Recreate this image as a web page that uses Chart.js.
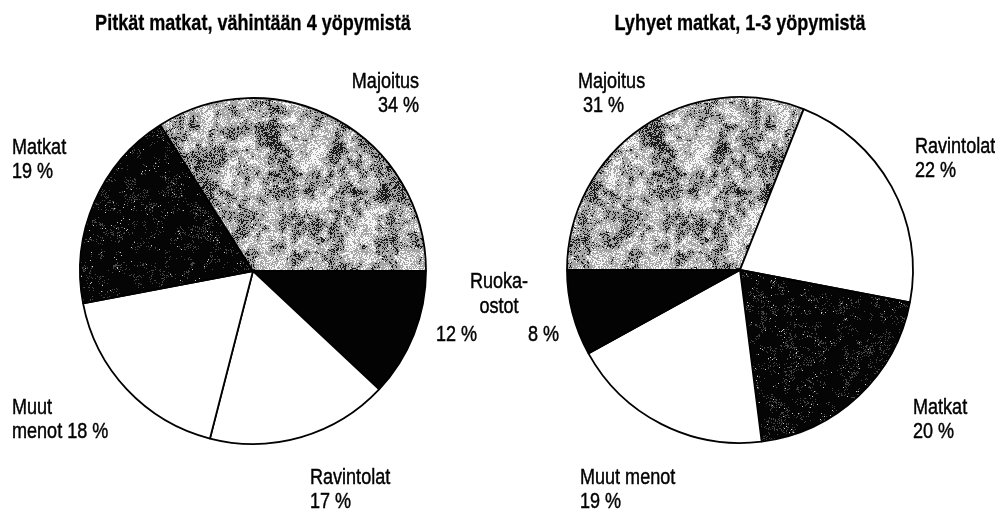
<!DOCTYPE html>
<html>
<head>
<meta charset="utf-8">
<script src="https://cdn.jsdelivr.net/npm/chart.js@4.4.0/dist/chart.umd.min.js"></script>
<style>
  html, body { margin: 0; padding: 0; background: #fff; }
  #wrap { position: relative; width: 995px; height: 513px; overflow: hidden; }
  #wrap canvas { position: absolute; left: 0; top: 0; }
</style>
</head>
<body>
<div id="wrap">
  <canvas id="longChart" width="995" height="513"></canvas>
  <canvas id="shortChart" width="995" height="513"></canvas>
</div>
<script>
// --- Data (slice order = clockwise drawing order) ---
const longTitle = 'Pitkät matkat, vähintään 4 yöpymistä';
const longLabels = ['Ruokaostot', 'Ravintolat', 'Muut menot', 'Matkat', 'Majoitus'];
const longValues = [12, 17, 18, 19, 34];

const shortTitle = 'Lyhyet matkat, 1-3 yöpymistä';
const shortLabels = ['Majoitus', 'Ravintolat', 'Matkat', 'Muut menot', 'Ruokaostot'];
const shortValues = [31, 22, 20, 19, 8];

// --- Fonts ---
const FONT = '"Liberation Sans Narrow", "Arial Narrow"';
let condense = 1;
(function detectNarrow() {
    const c = document.createElement('canvas').getContext('2d');
    c.font = '22px ' + FONT + ', monospace';
    const a = c.measureText('Majoitus matkat').width;
    c.font = '22px monospace';
    const b = c.measureText('Majoitus matkat').width;
    if (Math.abs(a - b) < 0.5) condense = 0.82; // narrow face missing -> squeeze regular
})();
function fontStr(size, bold) {
    const fam = condense === 1 ? FONT + ', "Liberation Sans", sans-serif' : '"Liberation Sans", Arial, sans-serif';
    return (bold ? 'bold ' : '') + size + 'px ' + fam;
}

function drawText(ctx, text, x, y, align, bold) {
    ctx.save();
    ctx.font = fontStr(22, bold);
    ctx.fillStyle = '#000';
    ctx.strokeStyle = '#000';
    ctx.lineWidth = bold ? 0.3 : 0.45; // scanned print looks a bit heavier
    ctx.textBaseline = 'alphabetic';
    ctx.textAlign = align;
    ctx.translate(x, y);
    ctx.scale(condense, 1);
    ctx.fillText(text, 0, 0);
    ctx.strokeText(text, 0, 0);
    ctx.restore();
}

// --- Textures (deterministic speckle) ---
function lcg(seed) {
    let s = seed >>> 0;
    return function() {
        s = (s * 1664525 + 1013904223) >>> 0;
        return s / 4294967296;
    };
}

// smooth value noise on a repeating grid
function valueNoise(rnd, size, cell) {
    const n = size / cell, grid = [];
    for (let i = 0; i < n * n; i++) grid.push(rnd());
    const at = (cx, cy) => grid[((cy + n) % n) * n + ((cx + n) % n)];
    return function(x, y) {
        const fx = x / cell, fy = y / cell;
        const x0 = Math.floor(fx), y0 = Math.floor(fy);
        const tx = fx - x0, ty = fy - y0;
        return (at(x0, y0) * (1 - tx) + at(x0 + 1, y0) * tx) * (1 - ty) +
               (at(x0, y0 + 1) * (1 - tx) + at(x0 + 1, y0 + 1) * tx) * ty;
    };
}

function makeSpeckle(kind) {
    const size = 192;
    const cv = document.createElement('canvas');
    cv.width = size; cv.height = size;
    const g = cv.getContext('2d');
    const img = g.createImageData(size, size);
    const rnd = lcg(kind === 'gray' ? 12345 : 987);
    const big = valueNoise(rnd, size, 16);
    const mid = valueNoise(rnd, size, 6);
    for (let y = 0; y < size; y++) {
        for (let x = 0; x < size; x++) {
            const f = rnd();
            let v;
            if (kind === 'gray') {
                const m = 0.3 * big(x, y) + 0.35 * mid(x, y) + 0.35 * f;
                v = m < 0.36 ? 25 : (m > 0.62 ? 245 : 165);
            } else {
                const m = 0.35 * mid(x, y) + 0.65 * f;
                v = m > 0.78 ? (f > 0.99 ? 200 : 70) : 5;
            }
            const k = (y * size + x) * 4;
            img.data[k] = img.data[k + 1] = img.data[k + 2] = v;
            img.data[k + 3] = 255;
        }
    }
    g.putImageData(img, 0, 0);
    return g.createPattern(cv, 'repeat');
}

const grayTex = makeSpeckle('gray');
const darkTex = makeSpeckle('dark');
function fillFor(name) {
    if (name === 'Majoitus') return grayTex;
    if (name === 'Matkat') return darkTex;
    if (name === 'Ruokaostot') return '#030303';
    return '#ffffff';
}

function pct(labels, values, name) {
    return values[labels.indexOf(name)] + ' %';
}

// --- Text layout [text, x, baseline y, align] ---
const longTexts = [
    ['Majoitus', 419, 88, 'right'],
    [pct(longLabels, longValues, 'Majoitus'), 419, 112, 'right'],
    ['Matkat', 12, 154, 'left'],
    [pct(longLabels, longValues, 'Matkat'), 12, 178, 'left'],
    [pct(longLabels, longValues, 'Ruokaostot'), 436, 341, 'left'],
    ['Muut', 12, 414, 'left'],
    ['menot ' + pct(longLabels, longValues, 'Muut menot'), 12, 438, 'left'],
    ['Ravintolat', 310, 484, 'left'],
    [pct(longLabels, longValues, 'Ravintolat'), 310, 508, 'left']
];
const shortTexts = [
    ['Majoitus', 578, 88, 'left'],
    [pct(shortLabels, shortValues, 'Majoitus'), 583, 112, 'left'],
    ['Ravintolat', 915, 153, 'left'],
    [pct(shortLabels, shortValues, 'Ravintolat'), 915, 177, 'left'],
    ['Ruoka-', 499, 288, 'center'],
    ['ostot', 499, 313, 'center'],
    [pct(shortLabels, shortValues, 'Ruokaostot'), 528, 341, 'left'],
    ['Matkat', 913, 414, 'left'],
    [pct(shortLabels, shortValues, 'Matkat'), 913, 438, 'left'],
    ['Muut menot', 580, 484, 'left'],
    [pct(shortLabels, shortValues, 'Muut menot'), 580, 508, 'left']
];

const textPlugin = {
    id: 'pieTexts',
    afterDraw(chart, args, opts) {
        const ctx = chart.ctx;
        const area = chart.chartArea;
        drawText(ctx, opts.title, (area.left + area.right) / 2, 30, 'center', true);
        opts.texts.forEach(t => drawText(ctx, t[0], t[1], t[2], t[3], false));
    }
};

function makePie(id, labels, values, title, texts, rotation, pad) {
    return new Chart(document.getElementById(id), {
        type: 'pie',
        data: {
            labels: labels,
            datasets: [{
                data: values,
                backgroundColor: labels.map(fillFor),
                borderColor: '#000',
                borderWidth: 1.8,
                hoverOffset: 0
            }]
        },
        options: {
            responsive: false,
            animation: false,
            events: [],
            rotation: rotation,
            radius: 173,
            layout: { padding: pad },
            plugins: {
                legend: { display: false },
                tooltip: { enabled: false },
                title: { display: false },
                pieTexts: { title: title, texts: texts }
            }
        },
        plugins: [textPlugin]
    });
}

// left pie: centre ~(253,271), starts at 3 o'clock; right pie: centre ~(740,270), starts at 9 o'clock
makePie('longChart', longLabels, longValues, longTitle, longTexts, 90,
    { left: 53, right: 995 - 453, top: 71, bottom: 513 - 471 });
makePie('shortChart', shortLabels, shortValues, shortTitle, shortTexts, -90,
    { left: 540, right: 995 - 940, top: 70, bottom: 513 - 470 });
</script>
</body>
</html>
